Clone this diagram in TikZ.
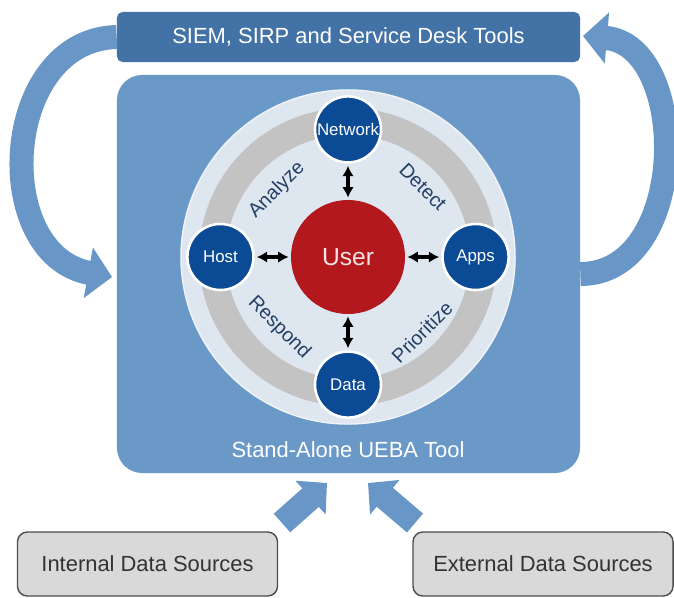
\documentclass[tikz,border=0pt]{standalone}
\usepackage{fontspec}
\setmainfont{Liberation Sans}
\usetikzlibrary{arrows.meta,positioning}

\definecolor{uebablue}{HTML}{6A99C7}
\definecolor{siemblue}{HTML}{4272A6}
\definecolor{arrowblue}{HTML}{6796C7}
\definecolor{ringlight}{HTML}{DEE7F0}
\definecolor{ringgray}{HTML}{C3C3C3}
\definecolor{satblue}{HTML}{0B4A94}
\definecolor{userred}{HTML}{B3191C}
\definecolor{labelnavy}{HTML}{233F66}
\definecolor{srcgray}{HTML}{D9D9D9}
\definecolor{srcline}{HTML}{4D4D4D}

\begin{document}
\begin{tikzpicture}[
    x=0.025cm, y=-0.025cm,
    font=\fontsize{15.6}{18}\selectfont,
    node distance=0.9cm,
    bar/.style={
        fill=siemblue,
        rounded corners=4pt,
        minimum width=11.575cm,
        minimum height=1.25cm,
        text=white
    },
    mainbox/.style={
        fill=uebablue,
        rounded corners=18pt,
        minimum width=11.575cm,
        minimum height=9.95cm
    },
    sat/.style={
        circle,
        fill=satblue,
        draw=white,
        line width=1.8pt,
        minimum size=1.65cm,
        inner sep=0pt,
        text=white,
        font=\fontsize{12}{14}\selectfont
    },
    hub/.style={
        circle,
        fill=userred,
        minimum size=2.85cm,
        inner sep=0pt,
        text=white!88!userred,
        font=\fontsize{17.5}{20}\selectfont
    },
    ringtxt/.style={text=labelnavy, inner sep=0pt, font=\fontsize{14}{16}\selectfont},
    src/.style={
        draw=srcline,
        fill=srcgray,
        line width=1pt,
        rounded corners=7pt,
        minimum width=6.5cm,
        minimum height=1.6cm,
        text=black!80
    },
    dbl/.style={{Latex[length=2.6mm,width=2.9mm]}-{Latex[length=2.6mm,width=2.9mm]}, line width=2.2pt, shorten <=1.5pt, shorten >=1.5pt},
    bigarr/.style={draw=arrowblue, line width=0.6cm, -{Triangle[length=0.6cm,width=1.25cm]}},
    uparr/.style={draw=arrowblue, line width=0.62cm, -{Triangle[length=0.55cm,width=1.1cm]}}
]
    \useasboundingbox (0,0) rectangle (674,597);

    %% Rahmen
    \node[mainbox] (ueba) at (348.5,274) {};
    \node[bar] (siem) at (348.5,37) {SIEM, SIRP and Service Desk Tools};
    \node[text=white] (uebatxt) at (348,450) {Stand-Alone UEBA Tool};

    %% Rueckkopplung
    \coordinate (ltip) at (112,277);
    \coordinate (rtip) at (583,36);
    \draw[bigarr] (siem.west) .. controls (0,40) and (-10,255) .. (ltip);
    \draw[bigarr] (ueba.east) .. controls (690,274) and (690,45) .. (rtip);

    %% Kreis
    \node[circle, fill=ringlight, draw=white!55!ringlight, line width=1pt, minimum size=8.35cm] (disk) at (348,257) {};
    \draw[ringgray, line width=0.675cm] (disk.center) circle[radius=135.5];

    %% Nutzer und Quellen
    \node[hub] (user) at (disk.center) {User};
    \node[sat, above=of user] (net) {Network};
    \node[sat, left=of user] (host) {Host};
    \node[sat, right=of user] (apps) {Apps};
    \node[sat, below=of user] (data) {Data};

    \draw[dbl] (net) -- (user);
    \draw[dbl] (host) -- (user);
    \draw[dbl] (apps) -- (user);
    \draw[dbl] (data) -- (user);

    \node[ringtxt, rotate=45] (analyze) at (277,190) {Analyze};
    \node[ringtxt, rotate=-45] (detect) at (423,187) {Detect};
    \node[ringtxt, rotate=-45] (respond) at (279,328) {Respond};
    \node[ringtxt, rotate=45] (prio) at (422,332) {Prioritize};

    %% Datenquellen
    \node[src] (intsrc) at (147.5,564) {Internal Data Sources};
    \node[src] (extsrc) at (543,564) {External Data Sources};

    \coordinate (intout) at (282,523);
    \coordinate (intin) at (327,483);
    \coordinate (extout) at (415,523);
    \coordinate (extin) at (368,483);
    \draw[uparr] (intout) -- (intin);
    \draw[uparr] (extout) -- (extin);
\end{tikzpicture}
\end{document}
